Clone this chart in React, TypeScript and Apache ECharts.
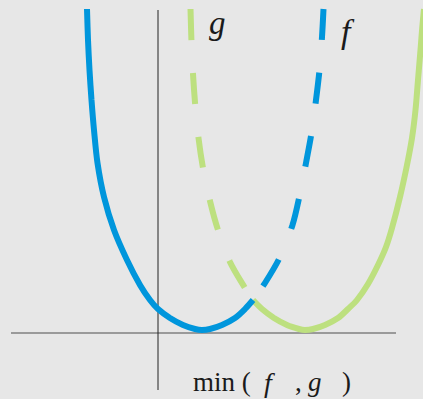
import React, { useEffect, useRef } from "react";
import * as echarts from "echarts";

// Coordinates in plot units (origin where the axes cross)
const fSolid: [number, number][] = [
  [-7.1, 32.4], [-7.0, 29.3], [-6.85, 26.3], [-6.65, 23.3], [-6.4, 20.3],
  [-6.05, 17.0], [-5.4, 13.6], [-4.4, 10.3], [-3.1, 7.3], [-1.8, 4.8],
  [-0.8, 3.3], [0, 2.4], [1.2, 1.5], [2.5, 0.8], [3.7, 0.4], [4.4, 0.3],
  [5.2, 0.4], [6.4, 0.8], [7.7, 1.5], [8.7, 2.4], [9.5, 3.3],
];
const fDashed: [number, number][] = [
  [16.55, 32.4], [16.4, 29.6], [16.15, 26.3], [15.8, 23.3], [15.35, 20.0],
  [14.8, 17.0], [14.15, 13.7], [13.45, 10.8], [12.2, 7.6], [10.7, 5.0], [9.5, 3.3],
];
const gDashed: [number, number][] = [
  [3.25, 32.4], [3.35, 29.1], [3.5, 25.9], [3.73, 22.7], [4.05, 19.5],
  [4.5, 16.5], [5.2, 13.2], [6.0, 10.3], [7.2, 7.1], [8.7, 4.5], [9.5, 3.3],
];
const gSolid: [number, number][] = [
  [9.5, 3.3], [10.4, 2.4], [11.6, 1.5], [12.9, 0.8], [14.1, 0.4], [14.7, 0.3],
  [15.5, 0.4], [16.7, 0.8], [18.0, 1.5], [19.0, 2.4], [19.9, 3.3], [21.0, 4.9],
  [22.0, 6.8], [22.8, 8.6], [23.4, 10.5], [24.2, 13.6], [24.9, 16.8], [25.4, 19.5],
  [25.75, 22.3], [26.0, 25.3], [26.25, 28.3], [26.43, 30.6], [26.6, 32.4],
];
const xAxisLine: [number, number][] = [[-14.7, 0], [23.8, 0]];
const yAxisLine: [number, number][] = [[0, 32.3], [0, -5.7]];

const labelF = "f";
const labelG = "g";
const minParts = ["min (", "f", ",", "g", ")"];

const BLUE = "#0096dc";
const GREEN = "#bde07f";
const INK = "#1a1a1a";
const SERIF = "Liberation Serif";

export default function App() {
  const ref = useRef<HTMLDivElement>(null);
  useEffect(() => {
    if (!ref.current) return;
    const chart = echarts.init(ref.current, undefined, { renderer: "svg" });
    const line = (data: [number, number][], color: string, width: number, type: any, z: number, smooth: any) => ({
      type: "line",
      data,
      showSymbol: false,
      symbol: "none",
      smooth,
      silent: true,
      z,
      lineStyle: { color, width, type, cap: "butt" },
    });
    chart.setOption({
      animation: false,
      backgroundColor: "#e7e7e7",
      grid: { left: 0, right: 0, top: 0, bottom: 0 },
      xAxis: { type: "value", min: -15.8, max: 26.5, show: false },
      yAxis: { type: "value", min: -6.6, max: 33.3, show: false },
      series: [
        line(xAxisLine, "#808080", 1.6, "solid", 1, false),
        line(yAxisLine, "#222222", 1, "solid", 1, false),
        line(gDashed, GREEN, 6, [31, 33], 2, 0.3),
        line(fDashed, BLUE, 6, [31, 33], 2, 0.3),
        line(gSolid, GREEN, 6, "solid", 3, 0.3),
        line(fSolid, BLUE, 6, "solid", 4, 0.3),
      ],
      graphic: [
        {
          type: "text",
          x: 209,
          y: 23,
          style: { text: labelG, fontFamily: SERIF, fontStyle: "italic", fontSize: 33, fill: INK, verticalAlign: "middle" },
        },
        {
          type: "text",
          x: 341,
          y: 31,
          style: { text: labelF, fontFamily: SERIF, fontStyle: "italic", fontSize: 34, fill: INK, verticalAlign: "middle" },
        },
        {
          type: "text",
          x: 193,
          y: 382,
          style: {
            text: `{a|${minParts[0]}}{b|${minParts[1]}}{c|${minParts[2]}}{d|${minParts[3]}}{e|${minParts[4]}}`,
            verticalAlign: "middle",
            fill: INK,
            fontFamily: SERIF,
            fontSize: 27,
            rich: {
              a: { fontFamily: SERIF, fontSize: 27, width: 71, fill: INK },
              b: { fontFamily: SERIF, fontSize: 28, fontStyle: "italic", width: 31, fill: INK },
              c: { fontFamily: SERIF, fontSize: 27, width: 13, fill: INK },
              d: { fontFamily: SERIF, fontSize: 27, fontStyle: "italic", width: 34, fill: INK },
              e: { fontFamily: SERIF, fontSize: 27, fill: INK },
            },
          },
        },
      ],
    });
    return () => chart.dispose();
  }, []);
  return (
    <div
      ref={ref}
      style={{ position: "fixed", left: 0, top: 0, width: 423, height: 399 }}
    />
  );
}
